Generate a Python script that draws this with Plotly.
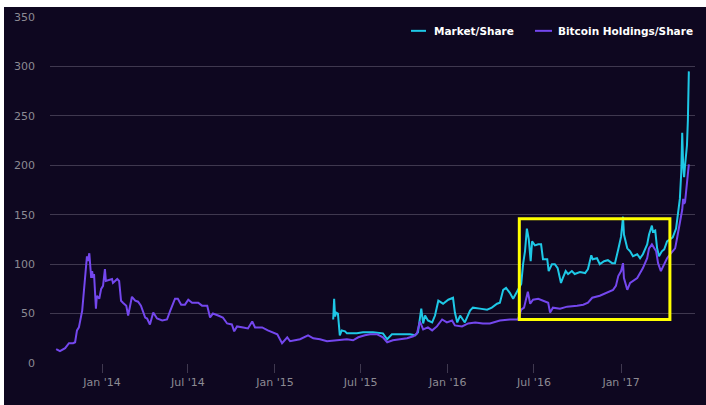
import plotly.graph_objects as go

# Bitcoin Holdings/Share (purple)
holdings_dates = [
    "2013-09-26", "2013-10-04", "2013-10-15", "2013-10-23", "2013-11-01", "2013-11-05",
    "2013-11-09", "2013-11-13", "2013-11-20", "2013-11-22", "2013-11-24", "2013-11-28",
    "2013-11-30", "2013-12-02", "2013-12-05", "2013-12-09", "2013-12-11", "2013-12-13",
    "2013-12-15", "2013-12-19", "2013-12-21", "2013-12-26", "2013-12-30", "2014-01-03",
    "2014-01-07", "2014-01-09", "2014-01-14", "2014-01-22", "2014-01-24", "2014-02-02",
    "2014-02-06", "2014-02-10", "2014-02-14", "2014-02-21", "2014-02-25", "2014-03-01",
    "2014-03-05", "2014-03-12", "2014-03-18", "2014-03-24", "2014-03-29", "2014-04-02",
    "2014-04-06", "2014-04-12", "2014-04-19", "2014-04-27", "2014-05-08", "2014-05-18",
    "2014-05-25", "2014-06-04", "2014-06-10", "2014-06-17", "2014-06-25", "2014-07-02",
    "2014-07-10", "2014-07-23", "2014-07-31", "2014-08-11", "2014-08-17", "2014-08-23",
    "2014-09-03", "2014-09-13", "2014-09-22", "2014-10-02", "2014-10-07", "2014-10-13",
    "2014-10-26", "2014-11-05", "2014-11-14", "2014-11-20", "2014-12-05", "2014-12-17",
    "2015-01-06", "2015-01-16", "2015-01-27", "2015-02-02", "2015-02-23", "2015-03-12",
    "2015-03-23", "2015-04-06", "2015-04-21", "2015-05-12", "2015-06-02", "2015-06-15",
    "2015-06-26", "2015-07-10", "2015-07-21", "2015-08-05", "2015-08-17", "2015-08-26",
    "2015-09-07", "2015-09-22", "2015-10-07", "2015-10-20", "2015-10-28", "2015-11-03",
    "2015-11-10", "2015-11-20", "2015-11-29", "2015-12-09", "2015-12-20", "2015-12-30",
    "2016-01-10", "2016-01-16", "2016-01-31", "2016-02-13", "2016-02-28", "2016-03-15",
    "2016-03-30", "2016-04-20", "2016-05-11", "2016-05-28", "2016-06-04", "2016-06-10",
    "2016-06-16", "2016-06-18", "2016-06-23", "2016-06-29", "2016-07-10", "2016-07-20",
    "2016-07-31", "2016-08-04", "2016-08-10", "2016-08-25", "2016-09-09", "2016-09-30",
    "2016-10-13", "2016-10-23", "2016-11-01", "2016-11-17", "2016-12-02", "2016-12-15",
    "2016-12-21", "2016-12-26", "2017-01-01", "2017-01-05", "2017-01-07", "2017-01-14",
    "2017-01-20", "2017-01-26", "2017-02-04", "2017-02-10", "2017-02-16", "2017-02-25",
    "2017-03-01", "2017-03-07", "2017-03-12", "2017-03-16", "2017-03-20", "2017-03-26",
    "2017-04-02", "2017-04-08", "2017-04-16", "2017-04-25", "2017-04-29", "2017-05-05",
    "2017-05-10", "2017-05-12", "2017-05-14", "2017-05-16", "2017-05-20", "2017-05-24",
]
holdings_values = [
    14, 12, 15, 20, 20, 21,
    33, 36, 53, 64, 73, 96,
    108, 103, 111, 86, 93, 86,
    90, 55, 68, 65, 75, 78,
    95, 83, 84, 85, 81, 85,
    83, 63, 61, 58, 48, 58,
    67, 63, 62, 58, 51, 46,
    45, 39, 51, 45, 43, 44,
    53, 65, 65, 59, 59, 64,
    61, 61, 58, 58, 46, 50,
    48, 46, 40, 39, 32, 37,
    36, 35, 42, 36, 36, 33,
    29, 20, 26, 22, 24, 28,
    25, 24, 22, 23, 24, 23,
    26, 28, 29, 29, 26, 21,
    23, 24, 25, 27, 30, 42,
    34, 36, 33, 37, 44, 41,
    43, 38, 37, 40, 41, 40,
    40, 43, 44, 44, 54, 56,
    70, 72, 60, 64, 65, 63,
    61, 51, 56, 55, 57, 58,
    59, 61, 66, 68, 71, 74,
    78, 88, 93, 101, 86, 74,
    81, 83, 86, 91, 96, 106,
    116, 120, 116, 113, 101, 93,
    100, 106, 111, 116, 126, 140,
    155, 166, 161, 163, 180, 201,
]

# Market/Share (cyan)
market_dates = [
    "2015-05-04", "2015-05-06", "2015-05-08", "2015-05-10", "2015-05-14", "2015-05-18",
    "2015-05-22", "2015-05-29", "2015-06-02", "2015-06-23", "2015-07-06", "2015-07-27",
    "2015-08-17", "2015-08-26", "2015-09-05", "2015-09-22", "2015-10-13", "2015-10-24",
    "2015-10-30", "2015-11-06", "2015-11-10", "2015-11-14", "2015-11-20", "2015-11-29",
    "2015-12-05", "2015-12-12", "2015-12-22", "2016-01-02", "2016-01-12", "2016-01-16",
    "2016-01-21", "2016-01-27", "2016-02-06", "2016-02-17", "2016-02-23", "2016-03-09",
    "2016-03-24", "2016-04-03", "2016-04-14", "2016-04-20", "2016-04-27", "2016-05-03",
    "2016-05-11", "2016-05-18", "2016-05-27", "2016-06-04", "2016-06-08", "2016-06-12",
    "2016-06-16", "2016-06-20", "2016-06-24", "2016-06-27", "2016-07-03", "2016-07-10",
    "2016-07-16", "2016-07-20", "2016-07-29", "2016-08-01", "2016-08-08", "2016-08-14",
    "2016-08-20", "2016-08-27", "2016-08-31", "2016-09-06", "2016-09-11", "2016-09-19",
    "2016-09-25", "2016-10-06", "2016-10-17", "2016-10-23", "2016-10-30", "2016-11-02",
    "2016-11-11", "2016-11-17", "2016-11-26", "2016-12-04", "2016-12-13", "2016-12-19",
    "2016-12-26", "2017-01-01", "2017-01-05", "2017-01-07", "2017-01-14", "2017-01-20",
    "2017-01-26", "2017-02-04", "2017-02-10", "2017-02-16", "2017-02-25", "2017-03-01",
    "2017-03-07", "2017-03-09", "2017-03-14", "2017-03-18", "2017-03-22", "2017-03-28",
    "2017-04-02", "2017-04-08", "2017-04-14", "2017-04-20", "2017-04-27", "2017-04-29",
    "2017-05-01", "2017-05-05", "2017-05-08", "2017-05-10", "2017-05-12", "2017-05-14",
    "2017-05-16", "2017-05-20", "2017-05-22", "2017-05-24",
]
market_values = [
    44, 65, 47, 51, 50, 28,
    33, 32, 30, 30, 31, 31,
    30, 24, 29, 29, 29, 28,
    31, 55, 40, 48, 43, 41,
    48, 63, 60, 64, 66, 51,
    41, 48, 41, 53, 56, 55,
    54, 56, 60, 61, 74, 76,
    71, 65, 73, 80, 100, 113,
    136, 125, 103, 123, 119, 120,
    120, 105, 105, 93, 100, 100,
    96, 81, 86, 93, 90, 93,
    90, 92, 91, 95, 109, 105,
    106, 100, 103, 104, 101, 101,
    115, 128, 148, 130, 116, 113,
    108, 110, 106, 110, 120, 130,
    139, 133, 134, 116, 108, 113,
    115, 123, 125, 127, 136, 143,
    153, 166, 193, 233, 200, 188,
    200, 220, 246, 295,
]

series_names = ["Market/Share", "Bitcoin Holdings/Share"]
series_colors = ["#1ec8e6", "#7447ee"]

y_ticks = [0, 50, 100, 150, 200, 250, 300, 350]
x_ticks = ["2014-01-01", "2014-07-01", "2015-01-01", "2015-07-01",
           "2016-01-01", "2016-07-01", "2017-01-01"]
x_tick_labels = ["Jan '14", "Jul '14", "Jan '15", "Jul '15", "Jan '16", "Jul '16", "Jan '17"]

BG = "#0e0720"
GRID = "#3f384f"
LABEL = "#8c8a93"

W, H = 706, 405
ML, MR, MT, MB = 50, 11, 13, 42
PW, PH = W - ML - MR, H - MT - MB


def px_x(p):
    return (p - ML) / PW


def px_y(p):
    return (H - MB - p) / PH


fig = go.Figure()
fig.add_trace(go.Scatter(
    x=market_dates, y=market_values, name=series_names[0], mode="lines",
    line=dict(color=series_colors[0], width=2), showlegend=False,
))
fig.add_trace(go.Scatter(
    x=holdings_dates, y=holdings_values, name=series_names[1], mode="lines",
    line=dict(color=series_colors[1], width=2), showlegend=False,
))

# white frame at top and left of the dark panel
fig.add_shape(type="rect", xref="paper", yref="paper",
              x0=px_x(0), x1=px_x(W + 2), y0=px_y(H + 2), y1=px_y(-2),
              line=dict(width=0), fillcolor="#ffffff", layer="below")
fig.add_shape(type="rect", xref="paper", yref="paper",
              x0=px_x(4), x1=px_x(W + 2), y0=px_y(H + 2), y1=px_y(3),
              line=dict(width=0), fillcolor=BG, layer="below")

# highlight box
fig.add_shape(type="rect", xref="x", yref="y",
              x0="2016-05-31", x1="2017-04-14", y0=44, y1=146,
              line=dict(color="#ffff00", width=3), fillcolor="rgba(0,0,0,0)", layer="above")

# legend (custom, top right)
legend_items = [(411, 426, 432), (535, 552, 556)]
for (s0, s1, tx), name, color in zip(legend_items, series_names, series_colors):
    fig.add_shape(type="line", xref="paper", yref="paper",
                  x0=px_x(s0), x1=px_x(s1), y0=px_y(27), y1=px_y(27),
                  line=dict(color=color, width=2))
    fig.add_annotation(xref="paper", yref="paper", x=px_x(tx), y=px_y(27),
                       xanchor="left", yanchor="middle", showarrow=False, text=name,
                       font=dict(family="DejaVu Sans", size=10.5, color="#ffffff", weight="bold"))

fig.update_layout(
    width=W, height=H,
    margin=dict(l=ML, r=MR, t=MT, b=MB),
    paper_bgcolor="#ffffff", plot_bgcolor=BG,
    font=dict(family="DejaVu Sans", size=11, color=LABEL),
    showlegend=False,
)
fig.update_xaxes(
    type="date", range=["2013-09-13", "2017-06-06"],
    tickvals=x_ticks, ticktext=x_tick_labels,
    showgrid=False, zeroline=False, showline=False,
    ticks="outside", ticklen=9, tickcolor=GRID, tickwidth=1,
    tickfont=dict(size=11, color=LABEL),
)
fig.update_yaxes(
    range=[0, 350], tickvals=y_ticks,
    showgrid=True, gridcolor=GRID, gridwidth=1, zeroline=False, showline=False,
    tickfont=dict(size=11, color=LABEL), ticklabelstandoff=14,
)

fig.write_html("out.html")
